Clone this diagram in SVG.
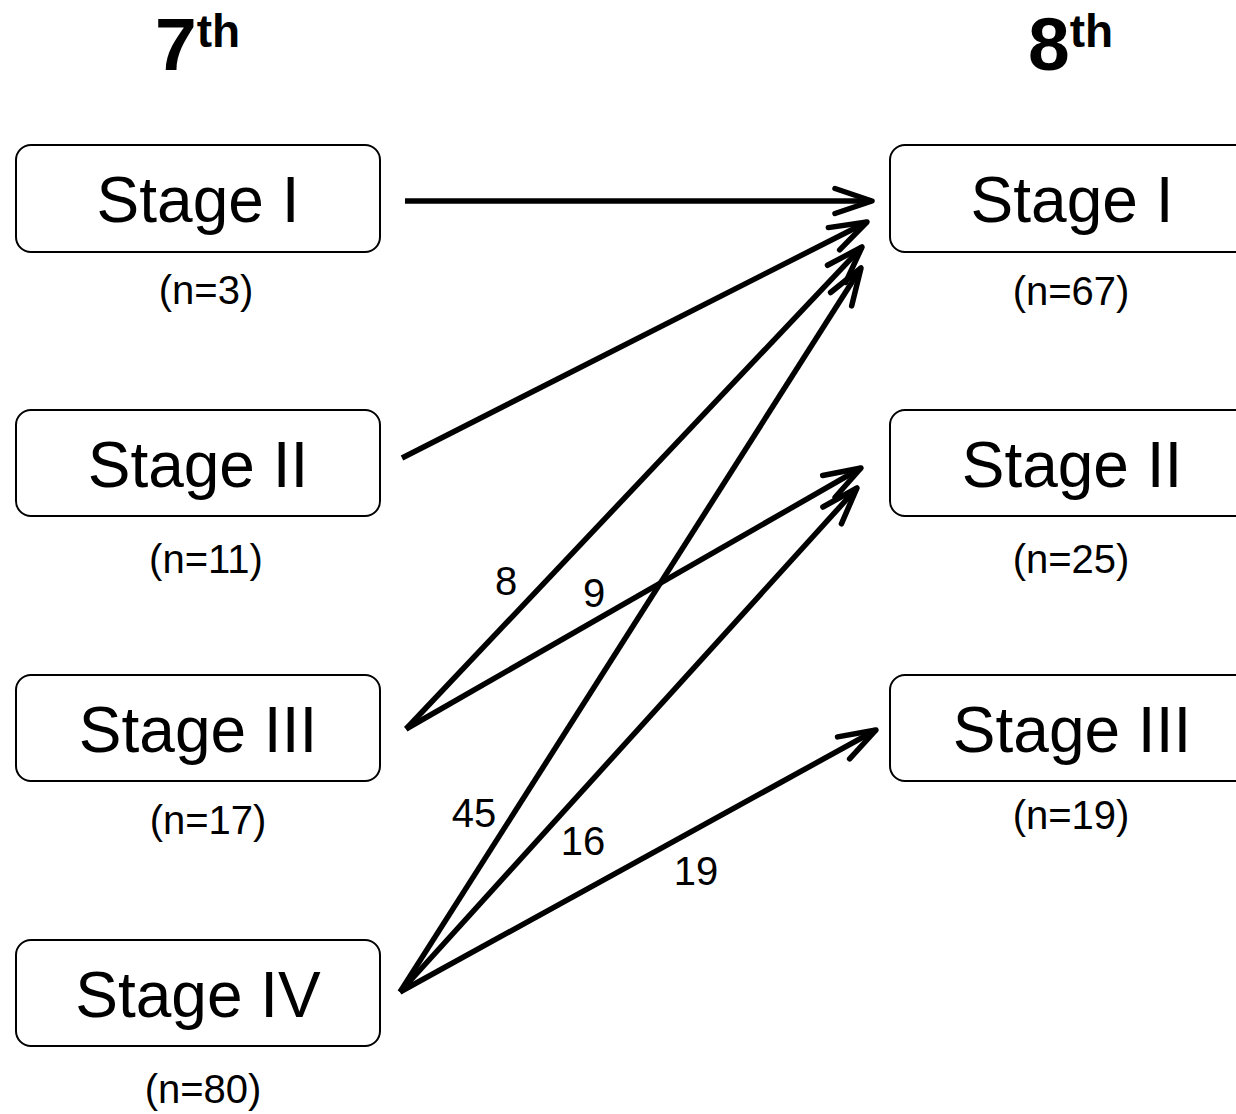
<svg xmlns="http://www.w3.org/2000/svg" width="1236" height="1114" viewBox="0 0 1236 1114">
<style>
.box{fill:#fff;stroke:#000;stroke-width:2}
.stage{font-family:"Liberation Sans",Arial,sans-serif;font-size:64px;text-anchor:middle;fill:#000}
.n{font-family:"Liberation Sans",Arial,sans-serif;font-size:40px;text-anchor:middle;fill:#000}
.lbl{font-family:"Liberation Sans",Arial,sans-serif;font-size:40px;text-anchor:middle;fill:#000}
.title{font-family:"Liberation Sans",Arial,sans-serif;font-size:75px;font-weight:bold;fill:#000}
.conn line{stroke:#000;stroke-width:5.5;fill:none}
</style>
<defs>
<marker id="arr" markerUnits="userSpaceOnUse" markerWidth="60" markerHeight="40" refX="0" refY="0" orient="auto" overflow="visible" viewBox="-45 -20 60 40">
<path d="M-37,-12.5 L0,0 L-37,12.5" fill="none" stroke="#000" stroke-width="5.5" stroke-linecap="round" stroke-linejoin="round"/>
</marker>
</defs>
<rect width="1236" height="1114" fill="#fff"/>
<text class="title" x="155" y="70">7<tspan font-size="46" dy="-23">th</tspan></text>
<text class="title" x="1028" y="70">8<tspan font-size="46" dy="-23">th</tspan></text>
<g id="l1"><rect class="box" x="16" y="145" width="364" height="107" rx="15"/><text class="stage" x="198" y="222">Stage I</text><text class="n" x="206" y="304">(n=3)</text></g>
<g id="l2"><rect class="box" x="16" y="410" width="364" height="106" rx="15"/><text class="stage" x="198" y="487">Stage II</text><text class="n" x="206" y="573">(n=11)</text></g>
<g id="l3"><rect class="box" x="16" y="675" width="364" height="106" rx="15"/><text class="stage" x="198" y="752">Stage III</text><text class="n" x="208" y="834">(n=17)</text></g>
<g id="l4"><rect class="box" x="16" y="940" width="364" height="106" rx="15"/><text class="stage" x="198" y="1017">Stage IV</text><text class="n" x="203" y="1103">(n=80)</text></g>
<g id="r1"><rect class="box" x="890" y="145" width="364" height="107" rx="15"/><text class="stage" x="1072" y="222">Stage I</text><text class="n" x="1071" y="305">(n=67)</text></g>
<g id="r2"><rect class="box" x="890" y="410" width="364" height="106" rx="15"/><text class="stage" x="1072" y="487">Stage II</text><text class="n" x="1071" y="573">(n=25)</text></g>
<g id="r3"><rect class="box" x="890" y="675" width="364" height="106" rx="15"/><text class="stage" x="1072" y="752">Stage III</text><text class="n" x="1071" y="829">(n=19)</text></g>
<g id="connectors" class="conn">
<line x1="405" y1="201" x2="872" y2="201" marker-end="url(#arr)"/>
<line x1="402" y1="458" x2="867" y2="222" marker-end="url(#arr)"/>
<line x1="406" y1="729" x2="862" y2="247" marker-end="url(#arr)"/>
<line x1="400" y1="992" x2="861" y2="268" marker-end="url(#arr)"/>
<line x1="406" y1="729" x2="861" y2="468" marker-end="url(#arr)"/>
<line x1="400" y1="992" x2="857" y2="488" marker-end="url(#arr)"/>
<line x1="400" y1="992" x2="876" y2="730" marker-end="url(#arr)"/>
</g>
<g id="labels">
<text class="lbl" x="506" y="595">8</text>
<text class="lbl" x="594" y="607">9</text>
<text class="lbl" x="474" y="827">45</text>
<text class="lbl" x="583" y="855">16</text>
<text class="lbl" x="696" y="885">19</text>
</g>
</svg>
